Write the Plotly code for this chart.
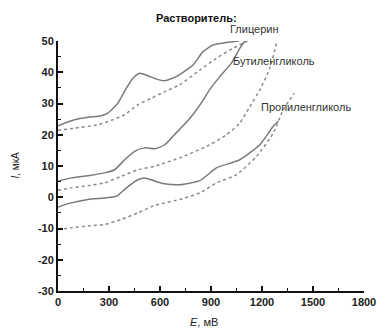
import plotly.graph_objects as go

# Voltammograms in three solvents (E in mV, I in uA); solid and dotted branches
gly_solid_E = [0, 97, 176, 254, 293, 352, 402, 441, 480, 529, 579, 628, 696, 794, 853, 912, 991, 1065]
gly_solid_I = [22.9, 24.8, 25.6, 26.1, 26.9, 30.1, 34.9, 38.1, 39.7, 38.9, 37.8, 37.3, 38.6, 42.3, 46.6, 48.7, 49.5, 50.0]

gly_dot_E = [0, 97, 235, 313, 392, 470, 549, 628, 716, 834, 932, 1030, 1115]
gly_dot_I = [21.4, 22.1, 23.2, 24.6, 26.4, 29.6, 31.7, 33.8, 36.0, 40.7, 44.5, 47.7, 50.0]

but_solid_E = [0, 78, 176, 274, 333, 392, 451, 510, 569, 628, 676, 755, 794, 853, 893, 952, 1020, 1070, 1099]
but_solid_I = [5.1, 6.2, 6.9, 7.8, 8.8, 12.0, 14.7, 15.8, 15.5, 16.8, 19.5, 24.0, 26.5, 31.0, 34.5, 38.6, 42.9, 47.7, 50.0]

but_dot_E = [0, 78, 176, 274, 372, 470, 569, 628, 716, 893, 991, 1069, 1128, 1187, 1246, 1286]
but_dot_I = [2.2, 3.0, 3.7, 4.6, 6.7, 8.8, 9.9, 11.0, 12.6, 16.8, 20.0, 23.7, 29.0, 34.3, 41.3, 49.5]

pro_solid_E = [0, 78, 176, 274, 343, 402, 470, 510, 569, 628, 716, 834, 932, 1069, 1187, 1266, 1296]
pro_solid_I = [-3.1, -1.8, -0.7, -0.2, 0.3, 3.0, 5.6, 6.2, 5.2, 4.3, 4.0, 5.3, 9.4, 12.0, 16.8, 22.7, 24.3]

pro_dot_E = [0, 78, 176, 274, 372, 470, 569, 628, 716, 834, 932, 1050, 1168, 1266, 1325, 1390]
pro_dot_I = [-10.3, -9.8, -9.2, -8.7, -7.1, -5.0, -2.6, -1.8, -0.7, 1.4, 4.6, 7.2, 13.1, 20.5, 28.0, 33.3]

x_ticks = [0, 300, 600, 900, 1200, 1500, 1800]
y_ticks = [-30, -20, -10, 0, 10, 20, 30, 40, 50]

solvent_title = "Растворитель:"
solvent_labels = ["Глицерин", "Бутиленгликоль", "Пропиленгликоль"]
# label anchors in axis units (E, I); some sit above the top of the axis range
label_pos_E = [1158, 1270, 1461]
label_pos_I = [53.8, 43.6, 28.9]
title_pos = (816, 57.3)

X_RANGE = [0, 1800]
Y_RANGE = [-30, 50]


def to_paper(e, i):
    return ((e - X_RANGE[0]) / (X_RANGE[1] - X_RANGE[0]),
            (i - Y_RANGE[0]) / (Y_RANGE[1] - Y_RANGE[0]))


SOLID = dict(color="#7a7a7a", width=1.5, shape="spline", smoothing=0.55)
DOT = dict(color="#8a8a8a", width=1.5, dash="dot", shape="spline", smoothing=0.55)

fig = go.Figure()
for E, I, style in [
    (gly_solid_E, gly_solid_I, SOLID), (gly_dot_E, gly_dot_I, DOT),
    (but_solid_E, but_solid_I, SOLID), (but_dot_E, but_dot_I, DOT),
    (pro_solid_E, pro_solid_I, SOLID), (pro_dot_E, pro_dot_I, DOT),
]:
    fig.add_trace(go.Scatter(x=E, y=I, mode="lines", line=style, showlegend=False))

FONT = "Liberation Sans, Arial, sans-serif"

px_, py_ = to_paper(*title_pos)
fig.add_annotation(x=px_, y=py_, xref="paper", yref="paper", text=solvent_title, showarrow=False,
                   font=dict(family=FONT, size=11, color="#111", weight="bold"),
                   xanchor="center", yanchor="middle")
for txt, ex, iy in zip(solvent_labels, label_pos_E, label_pos_I):
    px_, py_ = to_paper(ex, iy)
    fig.add_annotation(x=px_, y=py_, xref="paper", yref="paper", text=txt, showarrow=False,
                       font=dict(family=FONT, size=11, color="#333"), xanchor="center", yanchor="middle")

# axis titles
fig.add_annotation(x=-0.142, y=0.504, xref="paper", yref="paper", text="<i>I</i>, мкА",
                   textangle=-90, showarrow=False, font=dict(family=FONT, size=10, color="#222"),
                   xanchor="center", yanchor="middle")
fig.add_annotation(x=0.476, y=-0.124, xref="paper", yref="paper", text="<i>E</i>, мВ",
                   showarrow=False, font=dict(family=FONT, size=11, color="#222"),
                   xanchor="center", yanchor="middle")

axis_common = dict(showgrid=False, zeroline=False, showline=True, linecolor="#111", linewidth=2,
                   ticks="inside", ticklen=5, tickwidth=1.5, tickcolor="#111", automargin=False,
                   tickfont=dict(family=FONT, size=11, color="#222", weight="bold"))

fig.update_xaxes(range=X_RANGE, tickvals=x_ticks, ticktext=[str(v) for v in x_ticks],
                 minor=dict(dtick=150, ticks="inside", ticklen=3, tickcolor="#111", tickwidth=1.2),
                 **axis_common)
fig.update_yaxes(range=Y_RANGE, tickvals=y_ticks, ticktext=[str(v) for v in y_ticks],
                 minor=dict(dtick=5, ticks="inside", ticklen=3, tickcolor="#111", tickwidth=1.2),
                 **axis_common)

fig.update_layout(width=377, height=331, margin=dict(l=58, r=13, t=41, b=40),
                  plot_bgcolor="white", paper_bgcolor="white")

fig.write_html("out.html")
